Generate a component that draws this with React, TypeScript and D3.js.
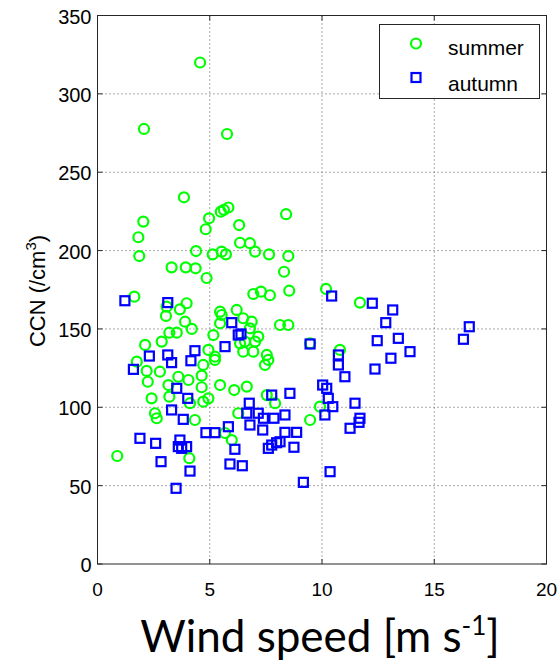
import React from "react";
import * as d3 from "d3";

// Wind speed (m/s) vs CCN (/cm^3) for two seasons
const summerWind = [4.57, 2.07, 5.77, 3.85, 2.04, 1.82, 1.86, 3.3, 3.93, 4.37, 4.39, 4.86, 4.82, 4.97, 5.13, 5.49, 5.63, 5.83, 5.53, 5.72, 6.31, 6.35, 6.79, 7.02, 7.64, 8.4, 8.5, 8.31, 8.54, 6.94, 7.28, 7.68, 10.18, 11.69, 1.64, 3.08, 3.05, 3.97, 3.67, 3.9, 4.2, 3.53, 3.2, 2.86, 2.12, 1.75, 2.78, 2.19, 2.24, 3.6, 4.05, 4.64, 4.71, 3.16, 5.46, 4.64, 2.41, 3.2, 4.12, 4.71, 4.94, 5.16, 4.94, 5.23, 5.53, 5.46, 6.2, 2.64, 6.09, 5.46, 6.49, 6.87, 6.79, 7.16, 6.57, 7.02, 6.35, 6.49, 6.94, 7.54, 7.61, 7.46, 5.23, 6.65, 7.54, 7.91, 6.27, 8.13, 8.5, 9.47, 10.8, 9.91, 9.47, 0.88, 2.56, 4.34, 4.09, 5.68, 5.98];
const summerCCN = [320, 277.6, 274.4, 234, 218.5, 208.5, 196.5, 189.3, 189.3, 188.7, 199.7, 182.5, 213.6, 220.6, 197.6, 224.8, 226, 227.5, 199.3, 197.6, 216.3, 205, 204.7, 199.3, 197.6, 223.2, 196.5, 186.5, 174.4, 172.3, 173.8, 171.5, 175.5, 166.8, 170.6, 164.2, 158.3, 166.4, 162.5, 154.6, 150, 147.6, 147.6, 141.9, 139.8, 129.1, 122.7, 123.2, 116.3, 119.5, 117.4, 120.2, 127, 114.2, 114.2, 112.8, 105.7, 106.8, 102.6, 103.6, 105.7, 146.1, 136.6, 132.3, 158.9, 153.6, 162.1, 93, 111, 161, 156.8, 154.6, 150.4, 145.1, 141.9, 141.9, 140.8, 135.5, 135.5, 133.4, 130.2, 127, 130.2, 113.2, 107.8, 102.6, 96.2, 152.5, 152.5, 140.8, 136.6, 100.4, 91.9, 68.9, 96.2, 91.9, 67.5, 83.6, 79.1];

const autumnWind = [1.22, 3.13, 2.31, 1.6, 3.13, 3.3, 4.34, 4.16, 3.53, 4.02, 5.98, 5.68, 6.27, 3.3, 3.82, 10.43, 12.24, 13.15, 12.84, 12.46, 13.4, 13.07, 12.36, 11.02, 10.73, 10.73, 6.39, 9.47, 10.03, 10.21, 10.28, 10.48, 11.47, 8.57, 7.76, 6.76, 6.65, 7.16, 8.35, 7.86, 10.13, 11.69, 16.56, 16.3, 13.92, 1.89, 2.59, 2.83, 3.67, 3.6, 3.75, 3.97, 4.12, 3.5, 4.83, 5.23, 5.83, 6.12, 5.9, 7.39, 6.79, 7.36, 8.35, 8.87, 7.61, 7.76, 7.98, 8.13, 8.75, 6.45, 9.17, 10.36, 11.25, 11.65];
const autumnCCN = [168, 166.8, 132.7, 124.2, 133.4, 128.5, 136.1, 129.7, 112.1, 105.7, 154, 138.7, 146.1, 98.3, 92.3, 171, 166.4, 162.1, 154, 142.5, 144, 131.3, 124.4, 119.5, 133.4, 127, 146.8, 140.4, 114.2, 112.1, 105.7, 100.4, 102.6, 108.9, 107.8, 102.6, 96.2, 96.2, 95.1, 93, 95.1, 93, 151.4, 143.4, 135.5, 80.2, 77, 65.3, 79.1, 74.9, 73.8, 74.9, 59.3, 48.3, 83.8, 83.8, 87.6, 73.2, 63.8, 93, 88.7, 85.5, 84, 84, 73.8, 75.9, 77.4, 78, 74.5, 62.7, 52.1, 58.9, 86.6, 90.4];

const xTicks = [0, 5, 10, 15, 20];
const yTicks = [0, 50, 100, 150, 200, 250, 300, 350];
const seriesNames = ["summer", "autumn"];

const W = 559;
const H = 661;
const plot = { left: 97.5, right: 546.5, top: 15.5, bottom: 564 };

const GREEN = "#00ff00";
const BLUE = "#0000ff";
const AXIS = "#262626";

export default function App() {
  const x = d3.scaleLinear().domain([0, 20]).range([plot.left, plot.right]);
  const y = d3.scaleLinear().domain([0, 350]).range([plot.bottom, plot.top]);
  const tickLen = 5;
  const sq = 9;

  const summer = summerWind.map((w, i) => ({ w, c: summerCCN[i] }));
  const autumn = autumnWind.map((w, i) => ({ w, c: autumnCCN[i] }));

  return (
    <svg
      width={W}
      height={H}
      style={{ position: "absolute", left: 0, top: 0, background: "#fff" }}
      fontFamily="Liberation Sans, Arial, sans-serif"
    >
      <rect x={0} y={0} width={W} height={H} fill="#fff" />

      {/* dotted grid */}
      {xTicks.slice(1, -1).map((t) => (
        <line key={"gx" + t} x1={x(t)} x2={x(t)} y1={plot.top} y2={plot.bottom}
          stroke="#555" strokeWidth={1} strokeDasharray="1 3" />
      ))}
      {yTicks.slice(1, -1).map((t) => (
        <line key={"gy" + t} x1={plot.left} x2={plot.right} y1={y(t)} y2={y(t)}
          stroke="#555" strokeWidth={1} strokeDasharray="1 3" />
      ))}

      {/* points: summer below, autumn on top */}
      {summer.map((d, i) => (
        <circle key={"s" + i} cx={x(d.w)} cy={y(d.c)} r={5} fill="none"
          stroke={GREEN} strokeWidth={2.2} />
      ))}
      {autumn.map((d, i) => (
        <rect key={"a" + i} x={x(d.w) - sq / 2} y={y(d.c) - sq / 2} width={sq} height={sq}
          fill="none" stroke={BLUE} strokeWidth={2.2} />
      ))}

      {/* axes box */}
      <rect x={plot.left} y={plot.top} width={plot.right - plot.left} height={plot.bottom - plot.top}
        fill="none" stroke={AXIS} strokeWidth={1} />

      {/* ticks on all sides */}
      {xTicks.map((t) => (
        <g key={"tx" + t}>
          <line x1={x(t)} x2={x(t)} y1={plot.bottom} y2={plot.bottom - tickLen} stroke={AXIS} />
          <line x1={x(t)} x2={x(t)} y1={plot.top} y2={plot.top + tickLen} stroke={AXIS} />
          <text x={x(t)} y={plot.bottom + 32} textAnchor="middle" fontSize={19} fill="#000">{t}</text>
        </g>
      ))}
      {yTicks.map((t) => (
        <g key={"ty" + t}>
          <line x1={plot.left} x2={plot.left + tickLen} y1={y(t)} y2={y(t)} stroke={AXIS} />
          <line x1={plot.right} x2={plot.right - tickLen} y1={y(t)} y2={y(t)} stroke={AXIS} />
          <text x={plot.left - 6} y={y(t) + 8} textAnchor="end" fontSize={20} fill="#000">{t}</text>
        </g>
      ))}

      {/* y label */}
      <text transform="translate(45, 291) rotate(-90)"
        textAnchor="middle" fontSize={22} fill="#000">
        CCN (/cm<tspan dy={-9} fontSize={15}>3</tspan><tspan dy={9}>)</tspan>
      </text>

      {/* x label */}
      <text x={320} y={652} textAnchor="middle" fontSize={44} fontFamily="Lato, Open Sans, sans-serif" fill="#000">
        Wind speed [m s<tspan dy={-17} fontSize={26}>-1</tspan><tspan dy={17}>]</tspan>
      </text>

      {/* legend */}
      <g>
        <rect x={379.5} y={24.5} width={160} height={74} fill="#fff" stroke={AXIS} strokeWidth={1} />
        <circle cx={416} cy={43.5} r={5} fill="none" stroke={GREEN} strokeWidth={2.2} />
        <rect x={416 - sq / 2} y={77.5 - sq / 2} width={sq} height={sq} fill="none" stroke={BLUE} strokeWidth={2.2} />
        <text x={448} y={55} fontSize={21} fill="#000">{seriesNames[0]}</text>
        <text x={448} y={90.5} fontSize={21} fill="#000">{seriesNames[1]}</text>
      </g>
    </svg>
  );
}
